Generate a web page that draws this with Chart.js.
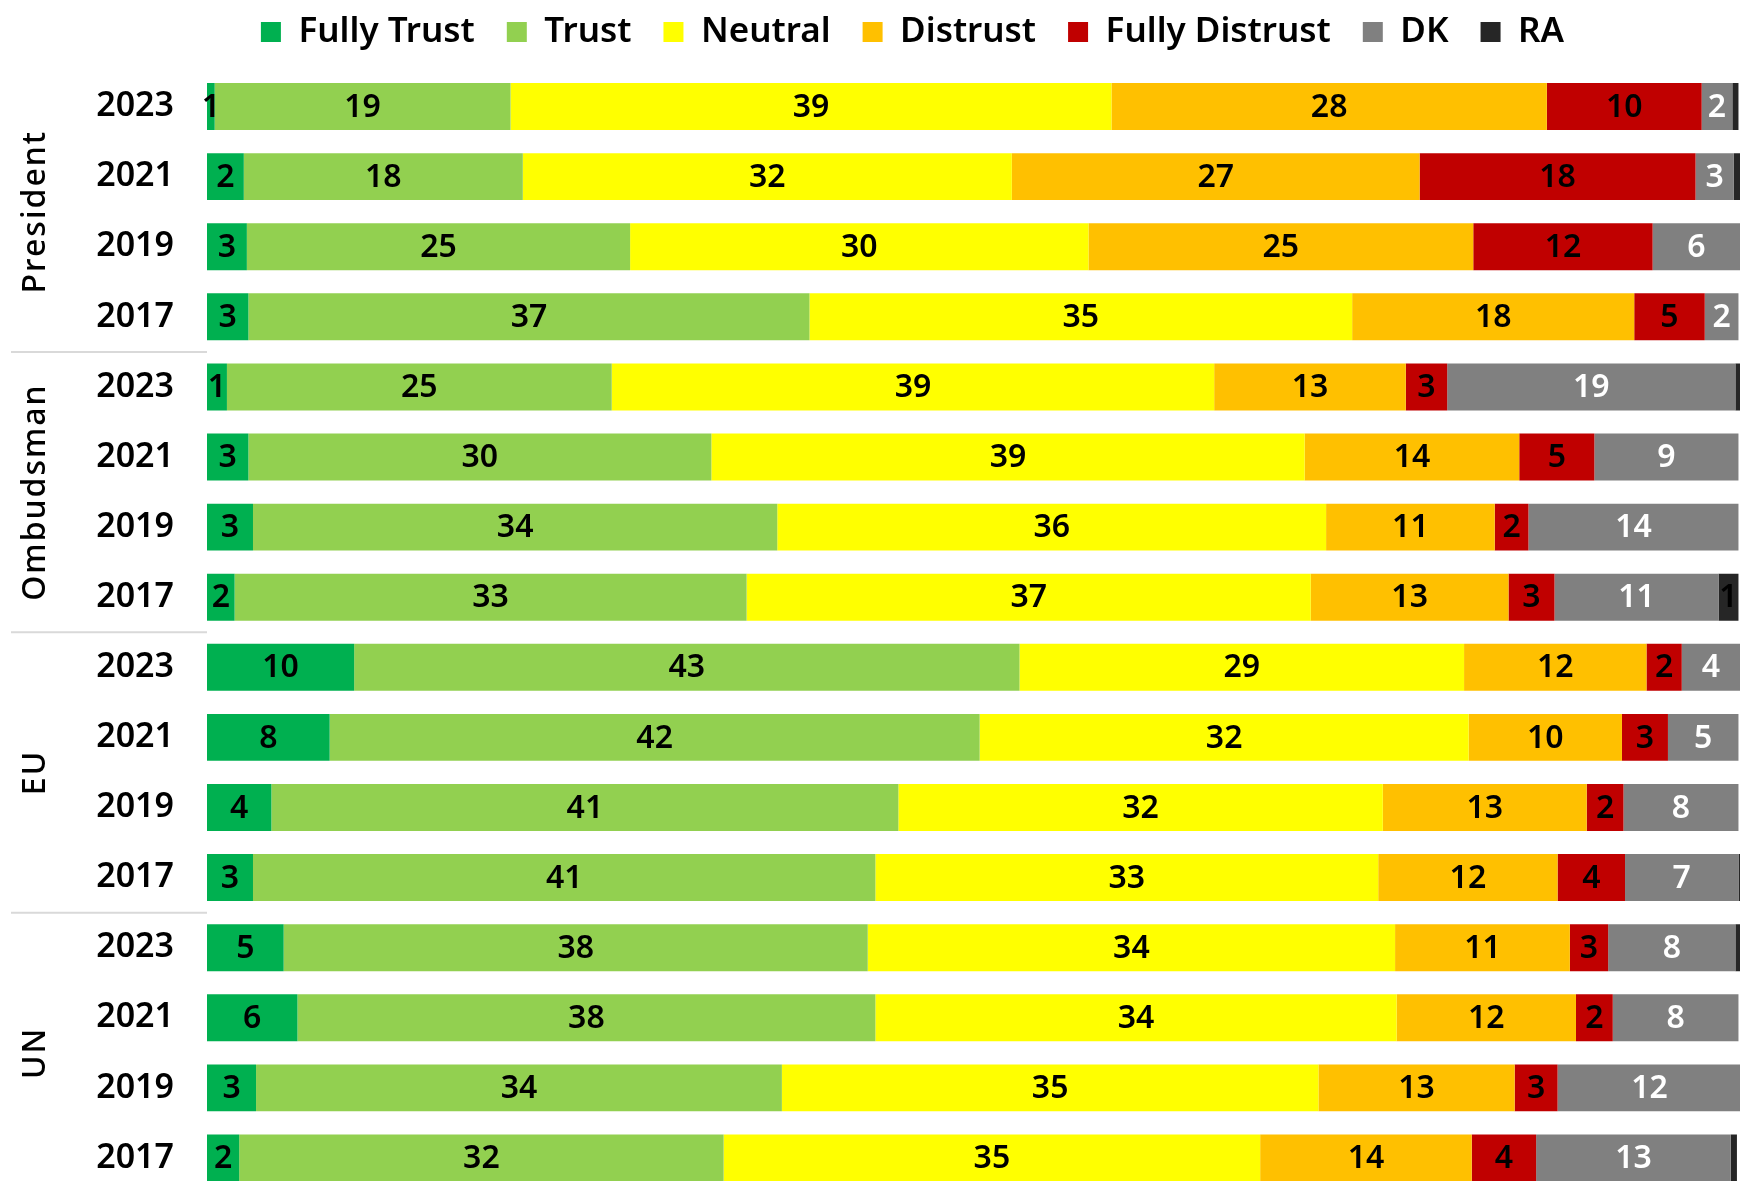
<!DOCTYPE html>
<html>
<head>
<meta charset="utf-8">
<script src="https://cdn.jsdelivr.net/npm/chart.js@4.4.1/dist/chart.umd.min.js"></script>
<style>
  html, body { margin: 0; padding: 0; background: #fff; overflow: hidden; }
  canvas { display: block; }
</style>
</head>
<body>
<canvas id="trust-chart" width="1740" height="1193"></canvas>
<script>
const groups = ['President', 'Ombudsman', 'EU', 'UN'];
const years = ['2023', '2021', '2019', '2017'];

// one value per row: President 2023..2017, Ombudsman 2023..2017, EU ..., UN ...
const fullyTrust    = [0.5, 2.4, 2.6, 2.7,  1.3, 2.7, 3.0, 1.8,  9.6, 8.0, 4.2, 3.0,  5.0, 5.9, 3.2, 2.1];
const trust         = [19.3, 18.2, 25.0, 36.6,  25.1, 30.2, 34.2, 33.4,  43.4, 42.4, 40.9, 40.6,  38.1, 37.7, 34.3, 31.6];
const neutral       = [39.2, 31.9, 29.9, 35.4,  39.3, 38.7, 35.8, 36.8,  29.0, 31.9, 31.6, 32.8,  34.4, 34.0, 35.0, 35.0];
const distrust      = [28.4, 26.6, 25.1, 18.4,  12.5, 14.0, 11.0, 12.9,  11.9, 10.0, 13.3, 11.7,  11.4, 11.7, 12.8, 13.8];
const fullyDistrust = [10.1, 18.0, 11.7, 4.6,  2.7, 4.9, 2.2, 3.0,  2.3, 3.0, 2.4, 4.4,  2.5, 2.4, 2.8, 4.2];
const dk            = [2.0, 2.5, 5.7, 2.2,  18.8, 9.4, 13.7, 10.7,  3.8, 4.6, 7.5, 7.4,  8.3, 8.2, 12.0, 12.7];
const ra            = [0.4, 0.4, 0, 0,  0.4, 0, 0, 1.3,  0, 0, 0, 0.2,  0.3, 0, 0, 0.4];

const rowLabels = groups.flatMap(() => years);
const FONT = '"Noto Sans", sans-serif';

const series = [
  { label: 'Fully Trust', data: fullyTrust, color: '#00B050', text: '#000' },
  { label: 'Trust', data: trust, color: '#92D050', text: '#000' },
  { label: 'Neutral', data: neutral, color: '#FFFF00', text: '#000' },
  { label: 'Distrust', data: distrust, color: '#FFC000', text: '#000' },
  { label: 'Fully Distrust', data: fullyDistrust, color: '#C00000', text: '#000' },
  { label: 'DK', data: dk, color: '#808080', text: '#fff' },
  { label: 'RA', data: ra, color: '#262626', text: '#000' }
];

// value labels in the middle of each segment
const segmentLabels = {
  id: 'segmentLabels',
  afterDatasetsDraw(chart) {
    const ctx = chart.ctx;
    ctx.save();
    ctx.font = '600 32px ' + FONT;
    ctx.textAlign = 'center';
    ctx.textBaseline = 'middle';
    chart.data.datasets.forEach((ds, i) => {
      const meta = chart.getDatasetMeta(i);
      meta.data.forEach((bar, j) => {
        const v = ds.data[j];
        if (v < 0.5) return;
        ctx.fillStyle = series[i].text;
        ctx.fillText(String(Math.round(v)), (bar.x + bar.base) / 2, bar.y + 1);
      });
    });
    ctx.restore();
  }
};

// group names and separator lines on the left
const groupLabels = {
  id: 'groupLabels',
  afterDraw(chart) {
    const ctx = chart.ctx;
    const y = chart.scales.y;
    ctx.save();
    groups.forEach((g, gi) => {
      const first = y.getPixelForValue(gi * 4);
      const last = y.getPixelForValue(gi * 4 + 3);
      ctx.save();
      ctx.translate(36, (first + last) / 2);
      ctx.rotate(-Math.PI / 2);
      ctx.font = '500 32px ' + FONT;
      ctx.letterSpacing = '2px';
      ctx.fillStyle = '#000';
      ctx.textAlign = 'center';
      ctx.textBaseline = 'middle';
      ctx.fillText(g, 0, 0);
      ctx.restore();
      if (gi < groups.length - 1) {
        const sep = (last + y.getPixelForValue(gi * 4 + 4)) / 2;
        ctx.strokeStyle = '#d9d9d9';
        ctx.lineWidth = 2;
        ctx.beginPath();
        ctx.moveTo(11, sep);
        ctx.lineTo(y.right, sep);
        ctx.stroke();
      }
    });
    ctx.restore();
  }
};

new Chart(document.getElementById('trust-chart'), {
  type: 'bar',
  data: {
    labels: rowLabels,
    datasets: series.map(s => ({
      label: s.label,
      data: s.data,
      backgroundColor: s.color,
      borderWidth: 0,
      barPercentage: 0.67,
      categoryPercentage: 1
    }))
  },
  options: {
    indexAxis: 'y',
    responsive: false,
    animation: false,
    layout: { padding: { top: -17.5, right: 0, bottom: 0, left: 85 } },
    scales: {
      x: {
        stacked: true, min: 0, max: 100, position: 'top',
        ticks: { display: false },
        grid: { display: false },
        border: { display: false },
        afterFit(scale) { scale.height = 12; }
      },
      y: {
        stacked: true,
        grid: { display: false },
        border: { display: false },
        ticks: { color: '#000', padding: 25, font: { family: FONT, size: 34, weight: '600' } },
        afterFit(scale) {
          scale.width = 122;
          scale.paddingTop = 0;
          scale.paddingBottom = 0;
        }
      }
    },
    plugins: {
      legend: {
        position: 'top',
        labels: {
          color: '#000',
          boxWidth: 20,
          boxHeight: 20,
          padding: 32,
          font: { family: FONT, size: 35, weight: '600' }
        }
      },
      tooltip: { enabled: false }
    }
  },
  plugins: [segmentLabels, groupLabels]
});
</script>
</body>
</html>
